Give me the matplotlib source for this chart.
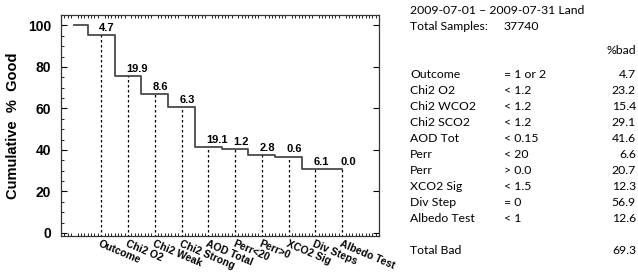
import numpy as np
import matplotlib
matplotlib.use("Agg")
import matplotlib.pyplot as plt
from matplotlib.ticker import MultipleLocator

# cumulative % good after each filter (index 0 = before filtering)
steps = ["", "Outcome", "Chi2 O2", "Chi2 Weak", "Chi2 Strong", "AOD Total",
         "Perr<20", "Perr>0", "XCO2 Sig", "Div Steps", "Albedo Test"]
good = [100, 95.3, 75.4, 66.8, 60.5, 41.4, 40.2, 37.4, 36.8, 30.7, 30.7]
drop = ["4.7", "19.9", "8.6", "6.3", "19.1", "1.2", "2.8", "0.6", "6.1", "0.0"]

# table on the right
tbl_name = ["Outcome", "Chi2 O2", "Chi2 WCO2", "Chi2 SCO2", "AOD Tot", "Perr",
            "Perr", "XCO2 Sig", "Div Step", "Albedo Test"]
tbl_cond = ["= 1 or 2", "< 1.2", "< 1.2", "< 1.2", "< 0.15", "< 20",
            "> 0.0", "< 1.5", "= 0", "< 1"]
tbl_bad = ["4.7", "23.2", "15.4", "29.1", "41.6", "6.6",
           "20.7", "12.3", "56.9", "12.6"]
title = "2009-07-01 \u2013 2009-07-31 Land"
n_samples = "37740"
total_bad = "69.3"

W, H = 638, 273
fig = plt.figure(figsize=(W / 100, H / 100), dpi=100)
ax = fig.add_axes([61 / W, 1 - 236 / H, (379 - 61) / W, (236 - 15) / H])

hfont = "Liberation Sans"
x = np.arange(len(good))
ax.step(x, good, where="mid", color="#4a4a4a", lw=1.3)
ax.vlines(x[1:], -2, good[1:], colors="black", linestyles=(0, (2, 2)), lw=0.9)
for xi, g, d in zip(x[1:], good[1:], drop):
    ax.annotate(d, (xi - 0.08, g), xytext=(0, 1.5), textcoords="offset points",
                ha="left", va="bottom", fontsize=8, fontweight="bold",
                family=hfont)

ax.set_xlim(-0.1, 11.3)
ax.set_ylim(-1.5, 105)
ax.yaxis.set_major_locator(MultipleLocator(20))
ax.yaxis.set_minor_locator(MultipleLocator(5))
ax.set_xticks(x)
ax.set_xticklabels(steps, rotation=-23, ha="left", va="top",
                   rotation_mode="anchor", fontsize=7.5, fontweight="bold",
                   family=hfont)
ax.set_xticks(np.arange(-0.5, 11.5, 0.125), minor=True)
ax.tick_params(axis="x", which="major", length=0, pad=2)
ax.tick_params(axis="x", which="minor", direction="in", length=2,
               top=True, bottom=True, width=0.6)
ax.tick_params(axis="y", which="major", direction="in", length=4,
               left=True, right=True, width=0.8, pad=7, labelsize=10)
ax.tick_params(axis="y", which="minor", direction="in", length=2.5,
               left=True, right=False, width=0.6)
for lab in ax.get_yticklabels():
    lab.set_fontweight("bold")
    lab.set_family(hfont)
ax.set_ylabel("Cumulative  %  Good", fontsize=10.5, fontweight="bold",
              family=hfont, labelpad=6)
for s in ax.spines.values():
    s.set_linewidth(0.9)
    s.set_color("#333333")

# right-hand table
tfont = dict(fontsize=8.8, family="Lato", color="black", va="center")
def fy(py):
    return 1 - py / H

fig.text(410 / W, fy(11), title, ha="left", **tfont)
fig.text(410 / W, fy(27), "Total Samples:", ha="left", **tfont)
fig.text(504 / W, fy(27), n_samples, ha="left", **tfont)
fig.text(636 / W, fy(50), "%bad", ha="right", **tfont)
for i, (nm, cd, bd) in enumerate(zip(tbl_name, tbl_cond, tbl_bad)):
    py = 75 + 16 * i
    fig.text(410 / W, fy(py), nm, ha="left", **tfont)
    fig.text(504 / W, fy(py), cd, ha="left", **tfont)
    fig.text(636 / W, fy(py), bd, ha="right", **tfont)
fig.text(410 / W, fy(251), "Total Bad", ha="left", **tfont)
fig.text(636 / W, fy(251), total_bad, ha="right", **tfont)

fig.savefig("out.png", dpi=100)
